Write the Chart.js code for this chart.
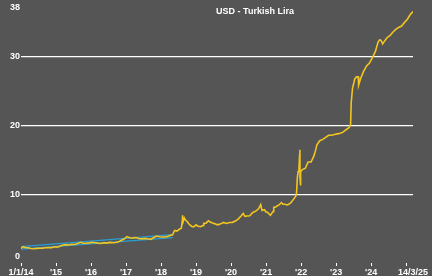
<!DOCTYPE html>
<html>
<head>
<meta charset="utf-8">
<script src="https://cdn.jsdelivr.net/npm/chart.js@4.4.1/dist/chart.umd.min.js"></script>
<style>
  html, body { margin: 0; padding: 0; background: #fff; }
  #wrap { width: 432px; height: 276px; background: #555555; }
</style>
</head>
<body>
<div id="wrap"><canvas id="fx"></canvas></div>
<script>
// USD/TRY
const dates = [
  '2014-01-01','2014-01-27','2014-02-15','2014-03-15','2014-04-15','2014-05-15','2014-06-15','2014-07-15',
  '2014-08-15','2014-09-15','2014-10-15','2014-11-15','2014-12-15',
  '2015-01-15','2015-02-15','2015-03-15','2015-04-15','2015-05-15','2015-06-15','2015-07-15','2015-08-15',
  '2015-09-15','2015-10-15','2015-11-15','2015-12-15',
  '2016-01-15','2016-02-15','2016-03-15','2016-04-15','2016-05-15','2016-06-15','2016-07-15','2016-08-15',
  '2016-09-15','2016-10-15','2016-11-15','2016-12-15',
  '2017-01-11','2017-02-15','2017-03-15','2017-04-15','2017-05-15','2017-06-15','2017-07-15','2017-08-15',
  '2017-09-15','2017-10-15','2017-11-15','2017-12-15',
  '2018-01-15','2018-02-15','2018-03-15','2018-04-15','2018-05-01','2018-05-23','2018-06-15','2018-07-15',
  '2018-08-01','2018-08-10','2018-08-13','2018-08-20','2018-09-01','2018-09-13','2018-10-01','2018-10-15',
  '2018-11-01','2018-11-15','2018-12-01','2018-12-15',
  '2019-01-03','2019-01-15','2019-02-15','2019-03-15','2019-03-22','2019-04-15','2019-05-10','2019-05-25',
  '2019-06-15','2019-07-15','2019-08-15','2019-09-15','2019-10-15','2019-11-15','2019-12-15',
  '2020-01-15','2020-02-15','2020-03-15','2020-04-15','2020-05-07','2020-05-25','2020-06-15','2020-07-15',
  '2020-08-15','2020-09-15','2020-10-15','2020-11-06','2020-11-20','2020-12-15','2020-12-31',
  '2021-01-15','2021-02-15','2021-03-15','2021-03-22','2021-04-15','2021-05-15','2021-06-10','2021-06-25',
  '2021-07-15','2021-08-15','2021-09-15','2021-10-15','2021-11-05','2021-11-15','2021-11-23','2021-12-01',
  '2021-12-10','2021-12-17','2021-12-20','2021-12-21','2021-12-23','2021-12-31',
  '2022-01-15','2022-02-15','2022-03-15','2022-04-15','2022-05-15','2022-06-01','2022-06-15','2022-07-15',
  '2022-08-15','2022-09-15','2022-10-15','2022-11-15','2022-12-15',
  '2023-01-15','2023-02-15','2023-03-15','2023-04-15','2023-05-15','2023-06-01','2023-06-08','2023-06-22',
  '2023-07-05','2023-07-15','2023-08-01','2023-08-20','2023-08-24','2023-09-15','2023-10-15','2023-11-15',
  '2023-12-15',
  '2024-01-15','2024-02-15','2024-03-15','2024-04-01','2024-04-15','2024-05-01','2024-05-15','2024-06-15',
  '2024-07-15','2024-08-15','2024-09-15','2024-10-15','2024-11-15','2024-12-15',
  '2025-01-15','2025-02-15','2025-03-14'
];
const usdTry = [
  2.15, 2.38, 2.22, 2.22, 2.12, 2.08, 2.13, 2.14,
  2.17, 2.22, 2.25, 2.23, 2.36,
  2.30, 2.48, 2.63, 2.68, 2.62, 2.73, 2.70, 2.85,
  3.02, 2.88, 2.88, 2.93,
  3.02, 2.96, 2.89, 2.85, 2.96, 2.90, 3.00, 2.95,
  2.98, 3.08, 3.30, 3.52,
  3.85, 3.65, 3.66, 3.70, 3.56, 3.52, 3.58, 3.52,
  3.45, 3.68, 3.92, 3.82,
  3.78, 3.78, 3.88, 4.05, 4.10, 4.75, 4.65, 4.95,
  5.05, 6.10, 6.95, 6.05, 6.55, 6.25, 6.05, 5.75,
  5.50, 5.35, 5.25, 5.35,
  5.55, 5.40, 5.28, 5.45, 5.75, 5.80, 6.15, 6.00,
  5.85, 5.70, 5.55, 5.70, 5.90, 5.75, 5.90,
  5.92, 6.10, 6.40, 6.85, 7.22, 6.80, 6.85, 6.88,
  7.35, 7.55, 7.90, 8.50, 7.65, 7.75, 7.43,
  7.40, 6.95, 7.50, 8.10, 8.20, 8.45, 8.80, 8.55,
  8.55, 8.45, 8.75, 9.30, 9.70, 10.20, 12.40, 13.30,
  13.80, 15.80, 16.50, 12.40, 11.30, 13.30,
  13.60, 13.80, 14.70, 14.70, 15.60, 16.40, 17.20, 17.80,
  18.00, 18.30, 18.60, 18.60, 18.70,
  18.80, 18.90, 19.05, 19.40, 19.70, 20.10, 23.40, 25.50,
  26.20, 26.80, 27.10, 27.10, 25.90, 26.90, 27.90, 28.70,
  29.10,
  29.90, 30.80, 32.20, 32.50, 32.40, 31.90, 32.20, 32.80,
  33.10, 33.60, 34.00, 34.30, 34.50, 35.00,
  35.50, 36.20, 36.60
];

// trend channel 2014 - spring 2018
const channelDates = ['2014-01-01', '2018-05-01'];
const channelUpper = [2.39, 4.13];
const channelLower = [2.03, 3.70];

const yTicks = [0, 10, 20, 30, 38];
const xTicks = [2014, 2015, 2016, 2017, 2018, 2019, 2020, 2021, 2022, 2023, 2024, 2025];
const xTickLabels = ['1/1/14', "'15", "'16", "'17", "'18", "'19", "'20", "'21", "'22", "'23", "'24", ''];
const endLabel = '14/3/25';

function toYear(s) {
  const d = Date.parse(s + 'T00:00:00Z');
  const y = Number(s.slice(0, 4));
  const a = Date.UTC(y, 0, 1), b = Date.UTC(y + 1, 0, 1);
  return y + (d - a) / (b - a);
}

function pts(ds, vs) {
  return ds.map((d, i) => ({ x: toYear(d), y: vs[i] }));
}

const FONT = 'bold 9px "Liberation Sans", Arial, sans-serif';
const endYear = toYear(dates[dates.length - 1]);

// y labels and title are drawn by hand so the end labels stay inside the canvas
const overlay = {
  id: 'overlay',
  afterDraw(chart) {
    const ctx = chart.ctx;
    const y = chart.scales.y;
    const area = chart.chartArea;
    ctx.save();
    ctx.fillStyle = '#ffffff';
    ctx.font = FONT;
    ctx.textAlign = 'right';
    ctx.textBaseline = 'middle';
    yTicks.forEach(v => {
      let py = y.getPixelForValue(v);
      py = Math.min(Math.max(py, area.top + 6), area.bottom - 6);
      ctx.fillText(String(v), area.left - 1, py);
    });
    ctx.textAlign = 'center';
    ctx.fillText('USD - Turkish Lira', 255, 12);
    ctx.restore();
  }
};

const allTicks = xTicks.concat([endYear]);
const allLabels = xTickLabels.concat([endLabel]);

new Chart(document.getElementById('fx'), {
  type: 'line',
  data: {
    datasets: [
      {
        data: pts(dates, usdTry),
        borderColor: '#f2c61f',
        borderWidth: 1.6,
        pointRadius: 0,
        tension: 0
      },
      {
        data: pts(channelDates, channelUpper),
        borderColor: '#2a9fd6',
        borderWidth: 1.3,
        pointRadius: 0
      },
      {
        data: pts(channelDates, channelLower),
        borderColor: '#2a9fd6',
        borderWidth: 1.3,
        pointRadius: 0
      }
    ]
  },
  options: {
    responsive: true,
    maintainAspectRatio: false,
    animation: false,
    layout: { padding: { top: 2, right: 19, left: 0, bottom: 0 } },
    plugins: { legend: { display: false }, tooltip: { enabled: false } },
    scales: {
      x: {
        type: 'linear',
        min: 2014,
        max: endYear,
        afterBuildTicks: s => { s.ticks = allTicks.map(v => ({ value: v })); },
        afterFit: s => { s.height = 13; },
        border: { display: false },
        grid: {
          drawOnChartArea: false,
          drawTicks: true,
          tickLength: 3,
          tickColor: c => (c.tick && c.tick.value > 2025.05) ? 'rgba(0,0,0,0)' : '#ffffff'
        },
        ticks: {
          autoSkip: false,
          maxRotation: 0,
          padding: 1,
          color: '#ffffff',
          font: { family: '"Liberation Sans", Arial, sans-serif', size: 9, weight: 'bold' },
          callback: (v, i) => allLabels[i]
        }
      },
      y: {
        min: 0,
        max: 38,
        afterBuildTicks: s => { s.ticks = yTicks.map(v => ({ value: v })); },
        afterFit: s => { s.width = 21; },
        border: { display: false },
        grid: {
          drawTicks: false,
          lineWidth: 1.3,
          color: c => (c.tick && c.tick.value > 0 && c.tick.value < 38) ? '#ffffff' : 'rgba(0,0,0,0)'
        },
        ticks: { display: false }
      }
    }
  },
  plugins: [overlay]
});
</script>
</body>
</html>
